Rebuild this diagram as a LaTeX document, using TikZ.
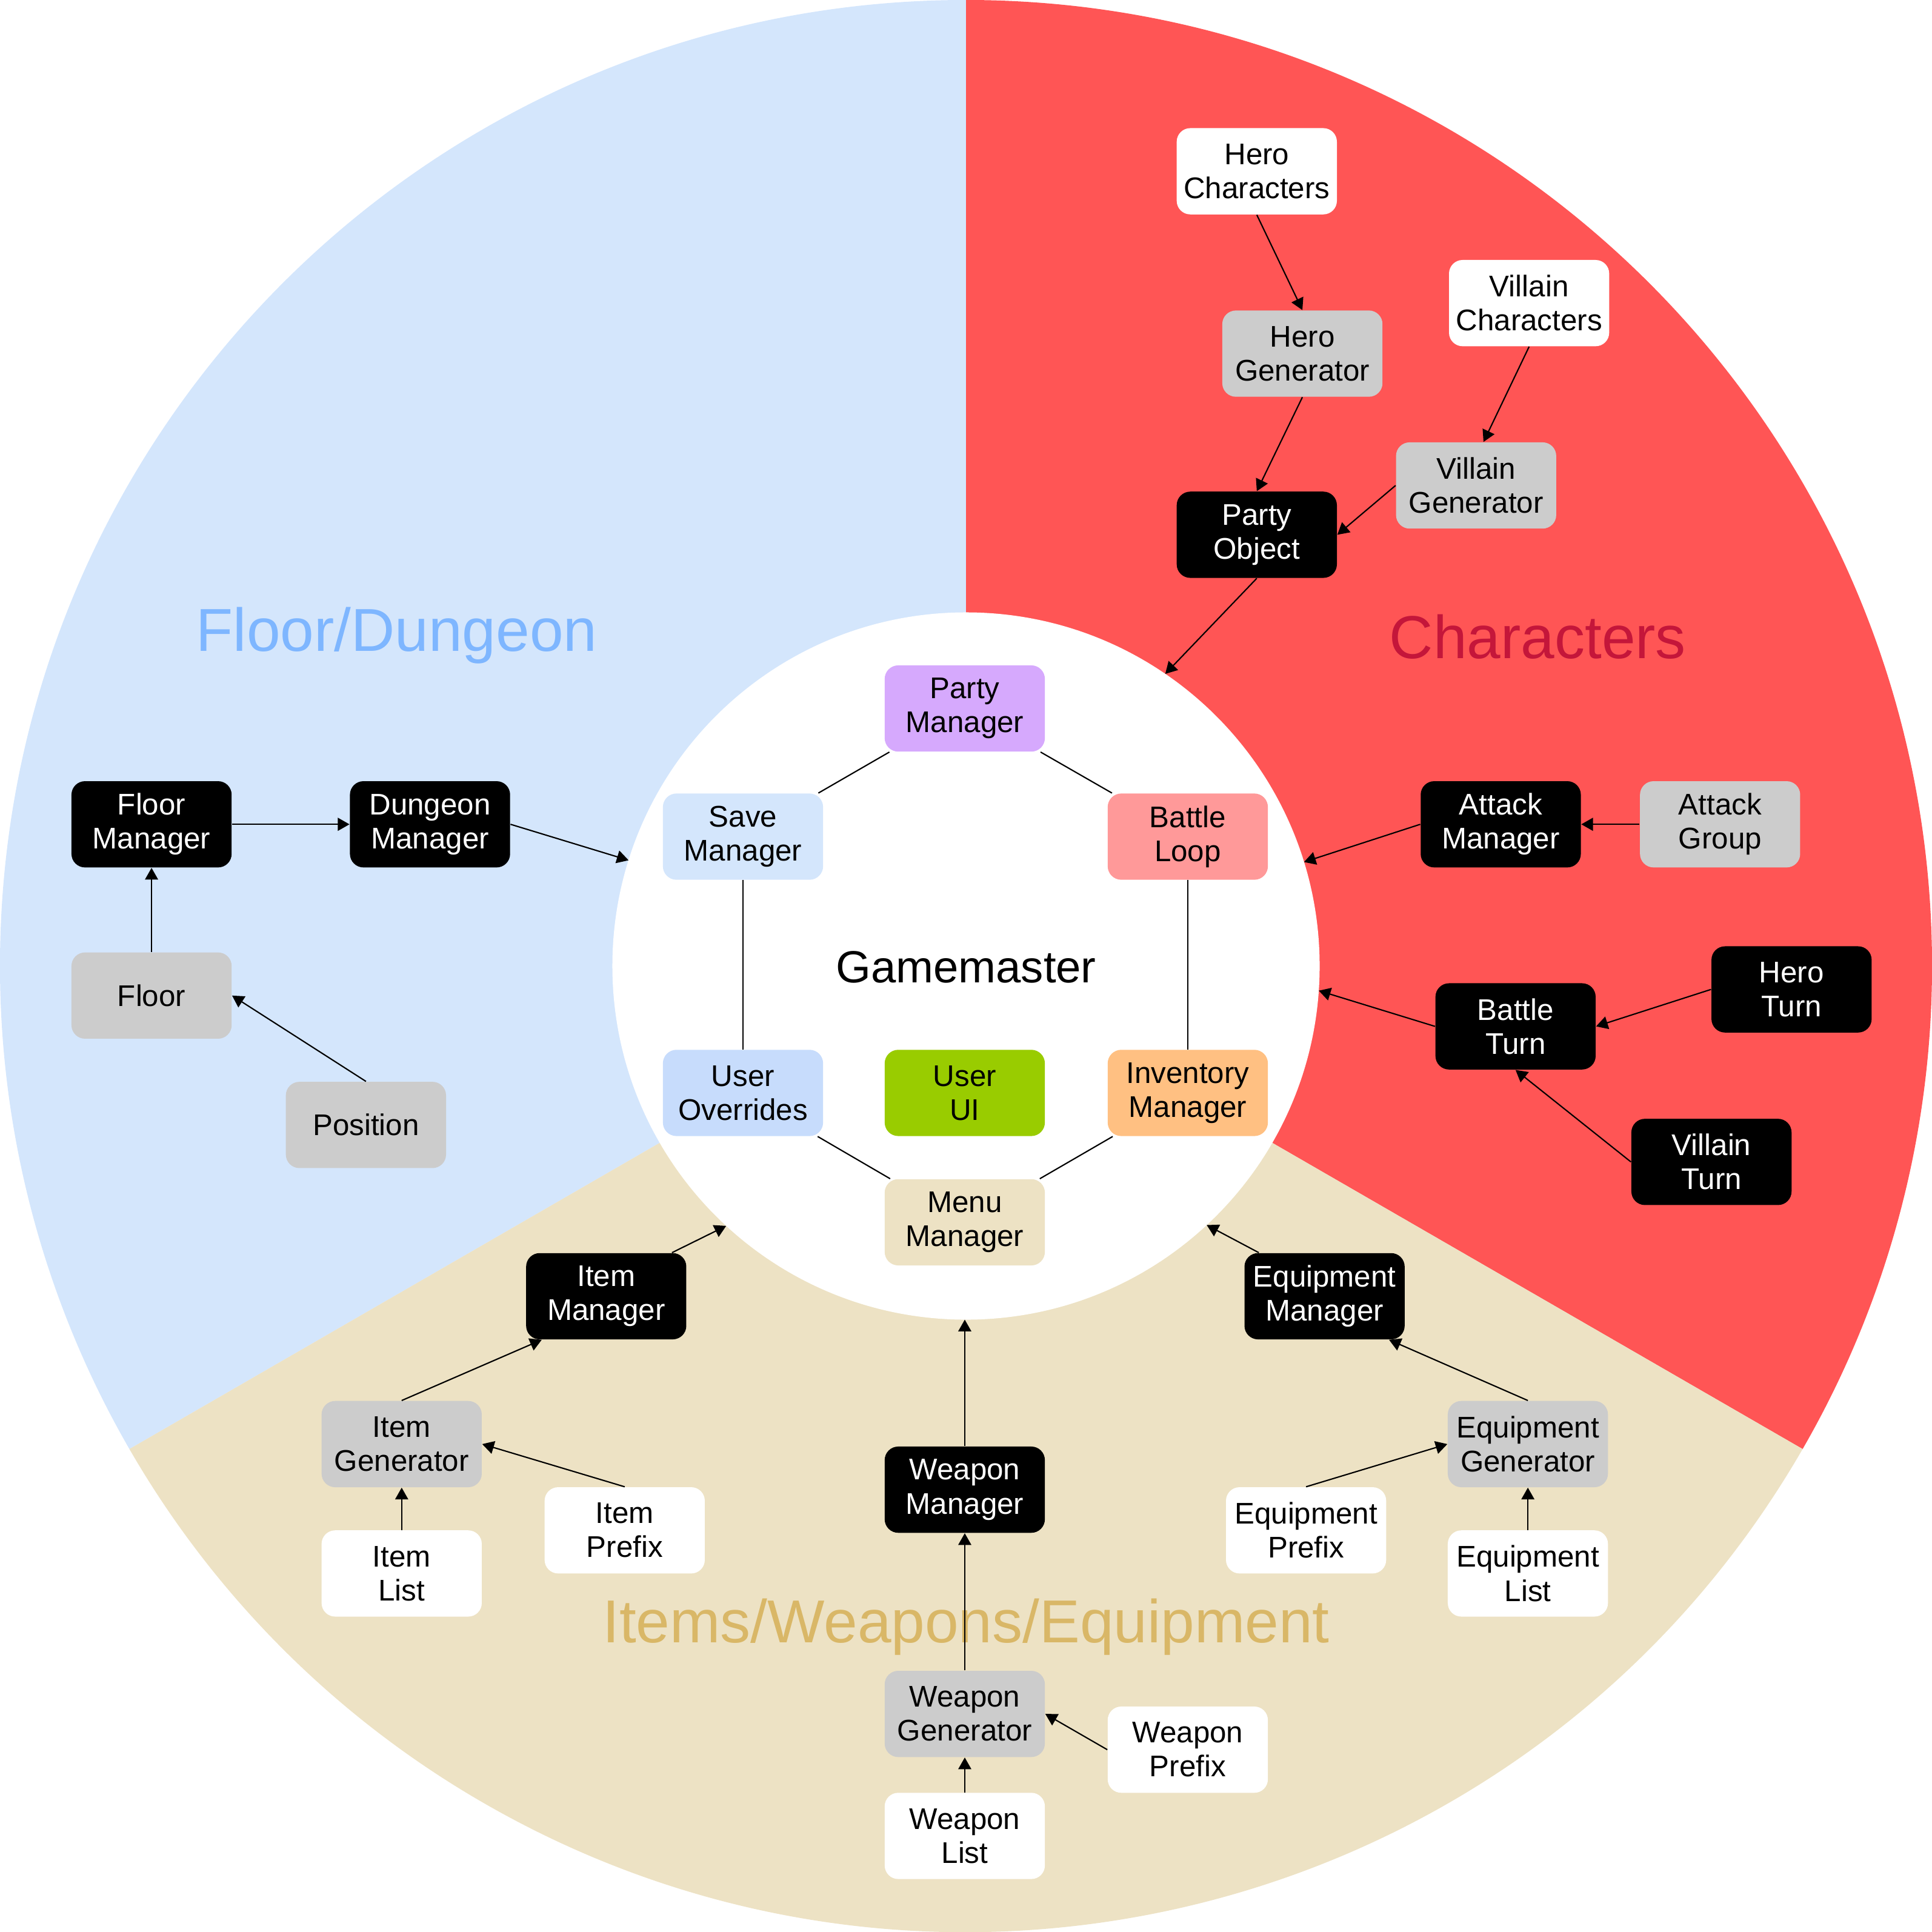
\documentclass[tikz,border=0pt]{standalone}
\usepackage{fontspec}
\setmainfont{Liberation Sans}
\usetikzlibrary{arrows.meta, calc}

\definecolor{redbg}{HTML}{FF5555}
\definecolor{bluebg}{HTML}{D4E6FC}
\definecolor{tanbg}{HTML}{EDE2C4}
\definecolor{floortxt}{HTML}{7EB6FF}
\definecolor{chartxt}{HTML}{C4163A}
\definecolor{itemtxt}{HTML}{D9B767}
\definecolor{boxgray}{HTML}{CCCCCC}
\definecolor{partyfill}{HTML}{D6A9FD}
\definecolor{battlefill}{HTML}{FF9999}
\definecolor{invfill}{HTML}{FFC082}
\definecolor{uifill}{HTML}{99CC00}
\definecolor{savefill}{HTML}{D4E6FC}
\definecolor{overfill}{HTML}{C7DCFC}

\def\rOut{156.8mm}
\def\rIn{57.4mm}

\begin{document}
\begin{tikzpicture}[x=0.2mm, y=-0.2mm,
    box/.style={rounded corners=2.2mm, minimum width=26mm, minimum height=14mm,
                inner sep=0pt, align=center,
                font=\fontsize{13.8pt}{15.7pt}\selectfont},
    blk/.style={box, fill=black, text=white},
    gry/.style={box, fill=boxgray},
    wht/.style={box, fill=white},
    core/.style={box, fill=#1},
    sector/.style={anchor=base, font=\fontsize{28pt}{30pt}\selectfont},
    link/.style={line width=0.6pt},
    feed/.style={link, -{Triangle[length=1.9mm, width=2.1mm]}},
]
\useasboundingbox (0,0) rectangle (1568,1568);
\coordinate (gm) at (784,784);
\fill[bluebg] (gm) -- ++(90:\rOut) arc[start angle=90, end angle=210, radius=\rOut] -- cycle;
\fill[redbg]  (gm) -- ++(90:\rOut) arc[start angle=90, end angle=-30, radius=\rOut] -- cycle;
\fill[tanbg]  (gm) -- ++(-30:\rOut) arc[start angle=-30, end angle=-150, radius=\rOut] -- cycle;
\fill[white]  (gm) circle[radius=\rIn];

\coordinate (inNE)  at ($(gm)+(55.7:\rIn)$);
\coordinate (inE)   at ($(gm)+(17.1:\rIn)$);
\coordinate (inESE) at ($(gm)+(-4:\rIn)$);
\coordinate (inW)   at ($(gm)+(162.6:\rIn)$);
\coordinate (inSW)  at ($(gm)+(227.3:\rIn)$);
\coordinate (inS)   at ($(gm)+(-90:\rIn)$);
\coordinate (inSE)  at ($(gm)+(-47.1:\rIn)$);

\node[sector, text=floortxt] (lblFloor) at (322,528.4) {Floor/Dungeon};
\node[sector, text=chartxt]  (lblChar)  at (1248,534.5) {Characters};
\node[sector, text=itemtxt]  (lblItem)  at (784,1333) {Items/Weapons/Equipment};
\node[anchor=base, font=\fontsize{20.8pt}{22pt}\selectfont] (gmText) at (784,797.7) {Gamemaster};

\node[core=partyfill]  (partyMgr)   at (783,575) {Party\\Manager};
\node[core=savefill]   (saveMgr)    at (603,679) {Save\\Manager};
\node[core=battlefill] (battleLoop) at (964,679) {Battle\\Loop};
\node[core=overfill]   (userOvr)    at (603,887) {User\\Overrides};
\node[core=uifill]     (userUI)     at (783,887) {User\\UI};
\node[core=invfill]    (invMgr)     at (964,887) {Inventory\\Manager};
\node[core=tanbg]      (menuMgr)    at (783,992) {Menu\\Manager};

\node[wht] (heroChar)   at (1020,139) {Hero\\Characters};
\node[gry] (heroGen)    at (1057,287) {Hero\\Generator};
\node[wht] (villChar)   at (1241,246) {Villain\\Characters};
\node[gry] (villGen)    at (1198,394) {Villain\\Generator};
\node[blk] (partyObj)   at (1020,434) {Party\\Object};
\node[blk] (attackMgr)  at (1218,669) {Attack\\Manager};
\node[gry] (attackGrp)  at (1396,669) {Attack\\Group};
\node[blk] (battleTurn) at (1230,833) {Battle\\Turn};
\node[blk] (heroTurn)   at (1454,803) {Hero\\Turn};
\node[blk] (villTurn)   at (1389,943) {Villain\\Turn};

\node[blk] (floorMgr) at (123,669) {Floor\\Manager};
\node[blk] (dungMgr)  at (349,669) {Dungeon\\Manager};
\node[gry] (floor)    at (123,808) {Floor};
\node[gry] (position) at (297,913) {Position};

\node[blk] (itemMgr)     at (492,1052)  {Item\\Manager};
\node[gry] (itemGen)     at (326,1172)  {Item\\Generator};
\node[wht] (itemList)    at (326,1277)  {Item\\List};
\node[wht] (itemPrefix)  at (507,1242)  {Item\\Prefix};
\node[blk] (weapMgr)     at (783,1209)  {Weapon\\Manager};
\node[gry] (weapGen)     at (783,1391)  {Weapon\\Generator};
\node[wht] (weapList)    at (783,1490)  {Weapon\\List};
\node[wht] (weapPrefix)  at (964,1420)  {Weapon\\Prefix};
\node[blk] (equipMgr)    at (1075,1052) {Equipment\\Manager};
\node[gry] (equipGen)    at (1240,1172) {Equipment\\Generator};
\node[wht] (equipPrefix) at (1060,1242) {Equipment\\Prefix};
\node[wht] (equipList)   at (1240,1277) {Equipment\\List};

\draw[link] (partyMgr) -- (saveMgr);
\draw[link] (partyMgr) -- (battleLoop);
\draw[link] (saveMgr) -- (userOvr);
\draw[link] (battleLoop) -- (invMgr);
\draw[link] (userOvr) -- (menuMgr);
\draw[link] (invMgr) -- (menuMgr);

\draw[feed] (heroChar.south) -- (heroGen.north);
\draw[feed] (heroGen.south) -- (partyObj.north);
\draw[feed] (villChar.south) -- ([xshift=1.2mm]villGen.north);
\draw[feed] (villGen.west) -- (partyObj.east);
\draw[feed] (partyObj.south) -- (inNE);
\draw[feed] (attackGrp.west) -- (attackMgr.east);
\draw[feed] (attackMgr.west) -- (inE);
\draw[feed] (heroTurn.west) -- (battleTurn.east);
\draw[feed] (villTurn.west) -- (battleTurn.south);
\draw[feed] (battleTurn.west) -- (inESE);

\draw[feed] (floorMgr.east) -- (dungMgr.west);
\draw[feed] (dungMgr.east) -- (inW);
\draw[feed] (floor.north) -- (floorMgr.south);
\draw[feed] (position.north) -- (floor.east);

\draw[feed] ([xshift=-2.4mm]itemMgr.north east) -- (inSW);
\draw[feed] (itemGen.north) -- ([xshift=2.6mm]itemMgr.south west);
\draw[feed] (itemList.north) -- (itemGen.south);
\draw[feed] (itemPrefix.north) -- (itemGen.east);
\draw[feed] (weapMgr.north) -- (weapMgr.north |- inS);
\draw[feed] (weapGen.north) -- (weapMgr.south);
\draw[feed] (weapList.north) -- (weapGen.south);
\draw[feed] (weapPrefix.west) -- (weapGen.east);
\draw[feed] ([xshift=2.4mm]equipMgr.north west) -- (inSE);
\draw[feed] (equipGen.north) -- ([xshift=-2.6mm]equipMgr.south east);
\draw[feed] (equipList.north) -- (equipGen.south);
\draw[feed] (equipPrefix.north) -- (equipGen.west);
\end{tikzpicture}
\end{document}
